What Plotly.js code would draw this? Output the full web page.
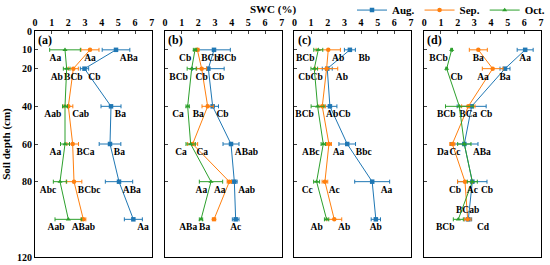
<!DOCTYPE html>
<html>
<head>
<meta charset="utf-8">
<script src="https://cdn.plot.ly/plotly-3.0.1.min.js"></script>
<style>
  body { margin: 0; }
  #chart { width: 550px; height: 265px; }
</style>
</head>
<body>
<div id="chart"></div>
<script>
// soil depth (cm)
var depth = [10, 20, 40, 60, 80, 100];

// (a)
var augA = [4.86, 2.97, 4.56, 4.5, 5.04, 5.9];
var augAErr = [0.83, 0.25, 0.6, 0.65, 0.82, 0.54];
var sepA = [3.3, 2.3, 2.0, 2.26, 2.34, 2.9];
var sepAErr = [0.54, 0.3, 0.27, 0.35, 0.47, 0.15];
var octA = [1.8, 1.9, 1.8, 1.8, 1.5, 2.0];
var octAErr = [0.92, 0.2, 0.15, 0.27, 0.4, 0.8];

// (b)
var augB = [2.94, 2.6, 2.86, 3.96, 4.16, 4.24];
var augBErr = [0.98, 0.95, 0.35, 0.48, 0.17, 0.2];
var sepB = [1.94, 2.2, 2.56, 1.66, 3.86, 2.94];
var sepBErr = [0.1, 0.3, 0.34, 0.3, 0.13, 0.1];
var octB = [1.8, 1.6, 1.36, 1.54, 2.76, 2.16];
var octBErr = [0.1, 0.27, 0.1, 0.28, 0.7, 0.1];

// (c)
var augC = [3.33, 1.97, 2.13, 3.17, 4.67, 4.89];
var augCErr = [0.33, 0.3, 0.42, 0.5, 1.05, 0.28];
var sepC = [2.03, 1.93, 1.67, 2.07, 1.83, 2.39];
var sepCErr = [0.73, 0.67, 0.2, 0.15, 0.17, 0.45];
var octC = [1.43, 1.19, 1.39, 1.73, 1.33, 1.93];
var octCErr = [0.27, 0.2, 0.39, 0.13, 0.18, 0.13];

// (d)
var augD = [6.05, 4.84, 2.84, 2.4, 2.88, 2.64];
var augDErr = [0.48, 0.3, 0.87, 0.82, 0.88, 0.2];
var sepD = [3.24, 4.1, 2.64, 1.68, 2.44, 2.6];
var sepDErr = [0.54, 0.62, 0.4, 0.15, 0.45, 0.2];
var octD = [1.64, 1.34, 2.1, 2.4, 2.88, 2.04];
var octDErr = [0.05, 0.05, 0.83, 0.4, 0.3, 0.3];

// significance letters
var augALab = ['ABa', 'Cb', 'Ba', 'Ba', 'ABa', 'Aa'];
var sepALab = ['Aa', 'BCb', 'Cab', 'BCa', 'BCbc', 'ABab'];
var octALab = ['Aa', 'Ab', 'Aab', 'Aa', 'Abc', 'Aab'];
var augBLab = ['BCb', 'Cb', 'Cb', 'ABab', 'Aab', 'Ac'];
var sepBLab = ['BCb', 'Cb', 'Ba', 'Ca', 'Aa', 'Ba'];
var octBLab = ['Cb', 'BCb', 'Ca', 'Ca', 'Aa', 'ABa'];
var augCLab = ['Bb', 'Ab', 'Cb', 'Bbc', 'Aa', 'Ab'];
var sepCLab = ['Ab', 'Cb', 'Ab', 'Aa', 'Ac', 'Ab'];
var octCLab = ['BCb', 'Cb', 'BCb', 'ABc', 'Cc', 'Ab'];
var augDLab = ['Aa', 'Ba', 'Cb', 'ABa', 'Cb', 'Cd'];
var sepDLab = ['Ba', 'Aa', 'BCa', 'Da', 'Cb', 'BCab'];
var octDLab = ['BCb', 'Cb', 'BCb', 'Cc', 'Ac', 'BCb'];

var months = ['Aug.', 'Sep.', 'Oct.'];
var panels = ['(a)', '(b)', '(c)', '(d)'];

// where each letter sits next to its point
var BL = 'bottom left', BC = 'bottom center', BR = 'bottom right', TC = 'top center';
var placeA = [[BR, BR, BR, BR, BR, BR], [BC, BC, BR, BR, BR, BC], [BL, BL, BL, BL, BL, BL]];
var placeB = [[BR, BR, BR, BR, BR, BC], [BR, BC, BL, BR, BL, BL], [BL, BL, BL, BL, BL, BL]];
var placeC = [[BR, BR, BR, BR, BR, BC], [BR, BL, BR, BR, BR, BR], [BL, BL, BL, BL, BL, BL]];
var placeD = [[BC, BC, BR, BR, BR, BR], [BC, BL, BC, BL, BL, TC], [BL, BR, BL, BL, BC, BL]];

var colors = ['#1f77b4', '#ff7f0e', '#2ca02c'];
var symbols = ['square', 'circle', 'triangle-up'];
var serif = 'Liberation Serif, Times New Roman, serif';
var pad = '\u00a0\u00a0';

var series = [
  [[augA, augAErr, augALab], [sepA, sepAErr, sepALab], [octA, octAErr, octALab]],
  [[augB, augBErr, augBLab], [sepB, sepBErr, sepBLab], [octB, octBErr, octBLab]],
  [[augC, augCErr, augCLab], [sepC, sepCErr, sepCLab], [octC, octCErr, octCLab]],
  [[augD, augDErr, augDLab], [sepD, sepDErr, sepDLab], [octD, octDErr, octDLab]]
];
var places = [placeA, placeB, placeC, placeD];

var data = [];
series.forEach(function (panel, p) {
  var ax = p ? String(p + 1) : '';
  panel.forEach(function (s, m) {
    // blue letters to the right get a little extra room, as in the original
    var txt = s[2].map(function (t, i) {
      return (m === 0 && places[p][m][i] === BR && (p === 3 || p === 2)) ? pad + t : t;
    });
    data.push({
      x: s[0],
      y: depth,
      xaxis: 'x' + ax,
      yaxis: 'y' + ax,
      name: months[m],
      showlegend: p === 0,
      mode: 'lines+markers+text',
      text: txt,
      textposition: places[p][m],
      textfont: { family: serif, size: 9.5, weight: 'bold', color: '#000' },
      line: { color: colors[m], width: 1 },
      marker: { color: colors[m], symbol: symbols[m], size: 4.5 },
      error_x: { type: 'data', array: s[1], color: colors[m], thickness: 1, width: 2 },
      cliponaxis: false
    });
  });
});

var domains = [[0, 0.2306], [0.2569, 0.4875], [0.5128, 0.743], [0.7694, 1]];

var layout = {
  width: 550,
  height: 265,
  margin: { l: 35, r: 9, t: 31, b: 8 },
  paper_bgcolor: '#fff',
  plot_bgcolor: '#fff',
  font: { family: serif, size: 10, color: '#000', weight: 'bold' },
  legend: {
    orientation: 'h',
    xref: 'container', yref: 'container',
    x: 1.0, xanchor: 'right',
    y: 0.962, yanchor: 'middle',
    font: { family: serif, size: 11, weight: 'bold' },
    itemwidth: 30,
    tracegroupgap: 0,
    bgcolor: 'rgba(0,0,0,0)'
  },
  annotations: [{
    text: 'SWC (%)',
    xref: 'paper', yref: 'paper',
    x: 0.47, y: 1.095, xanchor: 'center', yanchor: 'middle',
    showarrow: false,
    font: { family: serif, size: 11, weight: 'bold' }
  }]
};

domains.forEach(function (d, p) {
  var ax = p ? String(p + 1) : '';
  layout['xaxis' + ax] = {
    domain: d,
    anchor: 'y' + ax,
    range: [0, 7],
    dtick: 1,
    side: 'top',
    ticks: 'inside',
    ticklen: 3,
    showline: true,
    mirror: true,
    linecolor: '#000',
    linewidth: 1,
    showgrid: false,
    zeroline: false,
    tickfont: { family: serif, size: 10, weight: 'bold' }
  };
  layout['yaxis' + ax] = {
    anchor: 'x' + ax,
    range: [120, 0],
    tickvals: [0, 10, 20, 40, 60, 80, 120],
    ticks: 'inside',
    ticklen: 3,
    showticklabels: p === 0,
    showline: true,
    mirror: true,
    linecolor: '#000',
    linewidth: 1,
    showgrid: false,
    zeroline: false,
    tickfont: { family: serif, size: 10, weight: 'bold' },
    title: p === 0 ? { text: 'Soil depth (cm)', font: { family: serif, size: 11, weight: 'bold' }, standoff: 4 } : undefined
  };
  layout.annotations.push({
    text: panels[p],
    xref: 'x' + ax + ' domain', yref: 'y' + ax + ' domain',
    x: 0.01, y: 1.0, xanchor: 'left', yanchor: 'top',
    showarrow: false,
    font: { family: serif, size: 12, weight: 'bold' }
  });
});

Plotly.newPlot('chart', data, layout, { displayModeBar: false, staticPlot: true });
</script>
</body>
</html>
